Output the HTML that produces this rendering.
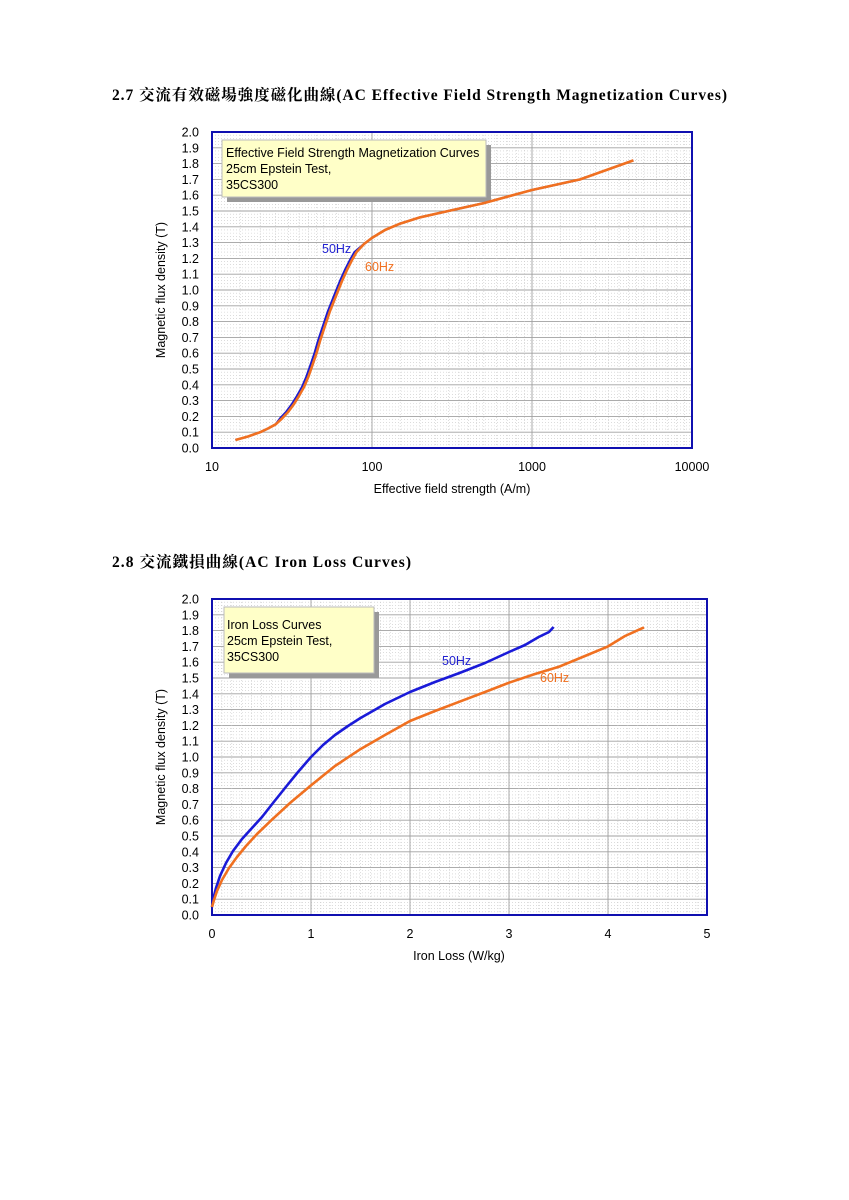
<!DOCTYPE html>
<html><head><meta charset="utf-8"><style>
html,body{margin:0;padding:0;background:#fff;}
svg{display:block;}
text{font-family:"Liberation Sans",sans-serif;}
.t{font-family:"Liberation Serif","Noto Serif CJK SC","Noto Sans CJK TC",serif;font-weight:bold;font-size:15.5px;fill:#000;}
</style></head><body>
<svg id="s" width="849" height="1200" viewBox="0 0 849 1200" xmlns="http://www.w3.org/2000/svg">
<rect width="849" height="1200" fill="#fff"/>
<text class="t" x="112" y="100" textLength="615" lengthAdjust="spacing">2.7  交流有效磁場強度磁化曲線(AC Effective Field Strength Magnetization Curves)</text>
<text class="t" x="112" y="567" textLength="299" lengthAdjust="spacing">2.8  交流鐵損曲線(AC Iron Loss Curves)</text>
<g id="g1"></g><g id="g2"></g>
</svg>
<script>
var NS="http://www.w3.org/2000/svg";
function el(p,t,a,txt){var e=document.createElementNS(NS,t);for(var k in a)e.setAttribute(k,a[k]);if(txt!=null)e.textContent=txt;p.appendChild(e);return e;}
function line(p,x1,y1,x2,y2,st,w,da){var a={x1:x1,y1:y1,x2:x2,y2:y2,stroke:st,"stroke-width":w};if(da)a["stroke-dasharray"]=da;el(p,"line",a);}
var MC="#c8c8c8",MW=0.6,MD="1,2";
function yaxis(g,L,R,T,B){
  for(var i=1;i<100;i++){if(i%5==0)continue;var y=B-(B-T)*i/100;line(g,L,y,R,y,MC,MW,MD);}
  for(var i=0;i<=20;i++){var y=B-(B-T)*i/20;if(i>0&&i<20)line(g,L,y,R,y,"#a0a0a0",0.9);
    el(g,"text",{x:L-13,y:y+4.5,"text-anchor":"end","font-size":"12.5"},(i/10).toFixed(1));}
}
// chart1
(function(){
 var g=document.getElementById("g1"),L=212,R=692,T=132,B=448;
 yaxis(g,L,R,T,B);
 for(var d=0;d<3;d++){for(var m=1;m<10;m++){for(var s=0;s<(m<5?2:1);s++){var v=m+s/2;if(v==1)continue;var x=L+160*(d+Math.log10(v));line(g,x,T,x,B,MC,MW,MD);}}
   if(d>0){var x=L+160*d;line(g,x,T,x,B,"#a0a0a0",0.9);} }
 el(g,"rect",{x:L,y:T,width:R-L,height:B-T,fill:"none",stroke:"#1010b0","stroke-width":2});
 ["10","100","1000","10000"].forEach(function(t,i){el(g,"text",{x:L+160*i,y:471,"text-anchor":"middle","font-size":"12.5"},t);});
 el(g,"text",{x:452,y:493,"text-anchor":"middle","font-size":"12.5"},"Effective field strength (A/m)");
 el(g,"text",{x:0,y:0,transform:"translate(165,290) rotate(-90)","text-anchor":"middle","font-size":"12.5"},"Magnetic flux density (T)");
 el(g,"rect",{x:227,y:145,width:264,height:57,fill:"#999"});
 el(g,"rect",{x:222,y:140,width:264,height:57,fill:"#ffffc8",stroke:"#bbb","stroke-width":1});
 ["Effective Field Strength Magnetization Curves","25cm Epstein Test,","35CS300"].forEach(function(t,i){el(g,"text",{x:226,y:157+i*16,"font-size":"12.5"},t);});
 var p=[[235.4,440],[248,436.5],[260.2,432.2],[268,428.5],[275.7,424.3],[282,418.5],[288.3,411.7],[294,404],[299,395.9],[304,387],[308.3,376.9],[312.5,365],[316.5,353.2],[320,341],[323.8,329.5],[330,311],[336.5,294.7],[342,281],[347.2,269.5],[352,260],[356.5,252.1],[364,244],[372,237.9],[385,230],[400.2,223.6],[420.2,217.3],[448.3,211],[483.8,203.1],[532,190],[580.2,179.4],[633.4,160.4]];
 var pb=p.map(function(q){return [q[0]-(q[1]<420&&q[1]>250?2:0),q[1]];});
 el(g,"polyline",{points:pb.join(" "),fill:"none",stroke:"#1a1ad0","stroke-width":2.2,"stroke-linejoin":"round"});
 el(g,"polyline",{points:p.join(" "),fill:"none",stroke:"#f07020","stroke-width":2.6,"stroke-linejoin":"round"});
 el(g,"text",{x:322,y:253,"font-size":"12.5",fill:"#2020d0"},"50Hz");
 el(g,"text",{x:365,y:271,"font-size":"12.5",fill:"#f07020"},"60Hz");
})();
// chart2
(function(){
 var g=document.getElementById("g2"),L=212,R=707,T=599,B=915;
 yaxis(g,L,R,T,B);
 for(var i=1;i<50;i++){var x=L+99*i/10;if(i%10==0)line(g,x,T,x,B,"#a0a0a0",0.9);else line(g,x,T,x,B,MC,MW,MD);}
 el(g,"rect",{x:L,y:T,width:R-L,height:B-T,fill:"none",stroke:"#1010b0","stroke-width":2});
 for(var i=0;i<=5;i++)el(g,"text",{x:L+99*i,y:938,"text-anchor":"middle","font-size":"12.5"},""+i);
 el(g,"text",{x:459,y:960,"text-anchor":"middle","font-size":"12.5"},"Iron Loss (W/kg)");
 el(g,"text",{x:0,y:0,transform:"translate(165,757) rotate(-90)","text-anchor":"middle","font-size":"12.5"},"Magnetic flux density (T)");
 el(g,"rect",{x:229,y:612,width:150,height:66,fill:"#999"});
 el(g,"rect",{x:224,y:607,width:150,height:66,fill:"#ffffc8",stroke:"#bbb","stroke-width":1});
 ["Iron Loss Curves","25cm Epstein Test,","35CS300"].forEach(function(t,i){el(g,"text",{x:227,y:629+i*16,"font-size":"12.5"},t);});
 var b=[[212,907],[213.5,898],[216,888],[220,876],[226,863],[233,851],[242,839],[252,828],[262,817],[273,803],[285,788],[298,772],[311,757],[323,745],[335,735],[348,726],[360.5,718],[385,704],[410,692],[435,682],[459.5,673],[485,663],[509,652],[525,645],[538.7,637],[549,632],[553.6,627]];
 var o=[[212,907],[214,900],[217,891],[222,880],[229,868],[237,857],[246,846],[257,834],[271.4,820.2],[290,803],[311,785.4],[335,766],[360.5,749.1],[385,735],[410,721],[435,711],[459.5,701.7],[485,692],[509,682.7],[535,674],[558.5,666.9],[585,656],[608,646.4],[625,636],[644,627.4]];
 el(g,"polyline",{points:b.join(" "),fill:"none",stroke:"#1a1ad8","stroke-width":2.6,"stroke-linejoin":"round"});
 el(g,"polyline",{points:o.join(" "),fill:"none",stroke:"#f07020","stroke-width":2.6,"stroke-linejoin":"round"});
 el(g,"text",{x:442,y:665,"font-size":"12.5",fill:"#2020d0"},"50Hz");
 el(g,"text",{x:540,y:682,"font-size":"12.5",fill:"#f07020"},"60Hz");
})();
</script>
</body></html>
